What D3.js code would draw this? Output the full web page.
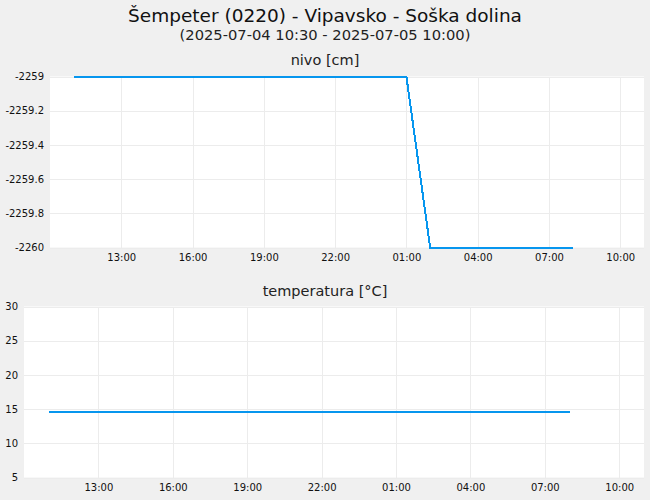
<!DOCTYPE html>
<html>
<head>
<meta charset="utf-8">
<script src="https://cdn.jsdelivr.net/npm/d3@7"></script>
<style>
  body { margin: 0; background: #f0f0f0; }
  text { font-family: "DejaVu Sans", sans-serif; }
</style>
</head>
<body>
<div id="chart"></div>
<script>
// hourly readings
const times = [
  "2025-07-04 11:00", "2025-07-04 12:00", "2025-07-04 13:00", "2025-07-04 14:00",
  "2025-07-04 15:00", "2025-07-04 16:00", "2025-07-04 17:00", "2025-07-04 18:00",
  "2025-07-04 19:00", "2025-07-04 20:00", "2025-07-04 21:00", "2025-07-04 22:00",
  "2025-07-04 23:00", "2025-07-05 00:00", "2025-07-05 01:00", "2025-07-05 02:00",
  "2025-07-05 03:00", "2025-07-05 04:00", "2025-07-05 05:00", "2025-07-05 06:00",
  "2025-07-05 07:00", "2025-07-05 08:00"
];
const nivo = [
  -2259, -2259, -2259, -2259, -2259, -2259, -2259, -2259,
  -2259, -2259, -2259, -2259, -2259, -2259, -2259, -2260,
  -2260, -2260, -2260, -2260, -2260, -2260
];
const temperatura = [
  14.6, 14.6, 14.6, 14.6, 14.6, 14.6, 14.6, 14.6,
  14.6, 14.6, 14.6, 14.6, 14.6, 14.6, 14.6, 14.6,
  14.6, 14.6, 14.6, 14.6, 14.6, 14.6
];
const xDomain = ["2025-07-04 10:00", "2025-07-05 11:00"];
const xTicks = [
  "2025-07-04 13:00", "2025-07-04 16:00", "2025-07-04 19:00", "2025-07-04 22:00",
  "2025-07-05 01:00", "2025-07-05 04:00", "2025-07-05 07:00", "2025-07-05 10:00"
];
const nivoTicks = [-2260, -2259.8, -2259.6, -2259.4, -2259.2, -2259];
const tempTicks = [5, 10, 15, 20, 25, 30];

const titleText = "Šempeter (0220) - Vipavsko - Soška dolina";
const subtitleText = "(2025-07-04 10:30 - 2025-07-05 10:00)";

const parseTime = d3.timeParse("%Y-%m-%d %H:%M");
const W = 650, H = 500;
const lineColor = "#0796ee";
const gridColor = "#ececec";

const svg = d3.select("#chart").append("svg")
  .attr("width", W).attr("height", H);

svg.append("rect").attr("width", W).attr("height", H).attr("fill", "#f0f0f0");

svg.append("text")
  .attr("x", W / 2).attr("y", 22)
  .attr("text-anchor", "middle")
  .attr("font-size", "18.5px")
  .attr("fill", "#111")
  .text(titleText);

svg.append("text")
  .attr("x", W / 2).attr("y", 40)
  .attr("text-anchor", "middle")
  .attr("font-size", "14.7px")
  .attr("fill", "#222")
  .text(subtitleText);

function drawPanel(cfg) {
  const { left, right, top, bottom, label, labelY, values, ticks, fmt } = cfg;
  const x = d3.scaleTime().domain(xDomain.map(parseTime)).range([left, right]);
  const y = d3.scaleLinear().domain([ticks[0], ticks[ticks.length - 1]]).range([bottom, top]);

  // panel title is centred on the page, not on the plot
  svg.append("text")
    .attr("x", W / 2).attr("y", labelY)
    .attr("text-anchor", "middle")
    .attr("font-size", "14.5px")
    .attr("fill", "#222")
    .text(label);

  svg.append("rect")
    .attr("x", left).attr("y", top)
    .attr("width", right - left).attr("height", bottom - top)
    .attr("fill", "#fff");

  // grid
  svg.append("g")
    .attr("transform", `translate(${left},0)`)
    .call(d3.axisLeft(y).tickValues(ticks).tickSize(-(right - left)).tickFormat(""))
    .call(g => g.select(".domain").remove())
    .call(g => g.selectAll("line").attr("stroke", gridColor).attr("shape-rendering", "crispEdges"));

  svg.append("g")
    .attr("transform", `translate(0,${bottom})`)
    .call(d3.axisBottom(x).tickValues(xTicks.map(parseTime)).tickSize(-(bottom - top)).tickFormat(""))
    .call(g => g.select(".domain").remove())
    .call(g => g.selectAll("line").attr("stroke", gridColor).attr("shape-rendering", "crispEdges"));

  // tick labels
  const yAx = svg.append("g")
    .attr("transform", `translate(${left},0)`)
    .call(d3.axisLeft(y).tickValues(ticks).tickSize(0).tickPadding(6).tickFormat(fmt));
  yAx.select(".domain").remove();
  yAx.selectAll("text").attr("font-size", "10px").attr("fill", "#111")
    .attr("font-family", "DejaVu Sans, sans-serif");

  const xAx = svg.append("g")
    .attr("transform", `translate(0,${bottom})`)
    .call(d3.axisBottom(x).tickValues(xTicks.map(parseTime)).tickSize(0).tickPadding(6)
      .tickFormat(d3.timeFormat("%H:%M")));
  xAx.select(".domain").remove();
  xAx.selectAll("text").attr("font-size", "10px").attr("fill", "#111")
    .attr("font-family", "DejaVu Sans, sans-serif");

  const line = d3.line()
    .x((d, i) => x(parseTime(times[i])))
    .y(d => y(d));

  svg.append("path")
    .datum(values)
    .attr("fill", "none")
    .attr("stroke", lineColor)
    .attr("stroke-width", 2)
    .attr("shape-rendering", "crispEdges")
    .attr("d", line);
}

drawPanel({
  left: 50, right: 644, top: 76.5, bottom: 247.5,
  label: "nivo [cm]", labelY: 65,
  values: nivo, ticks: nivoTicks,
  fmt: d => String(+d.toFixed(1))
});

drawPanel({
  left: 24, right: 644, top: 306.5, bottom: 477.5,
  label: "temperatura [°C]", labelY: 296,
  values: temperatura, ticks: tempTicks,
  fmt: d => String(d)
});
</script>
</body>
</html>
